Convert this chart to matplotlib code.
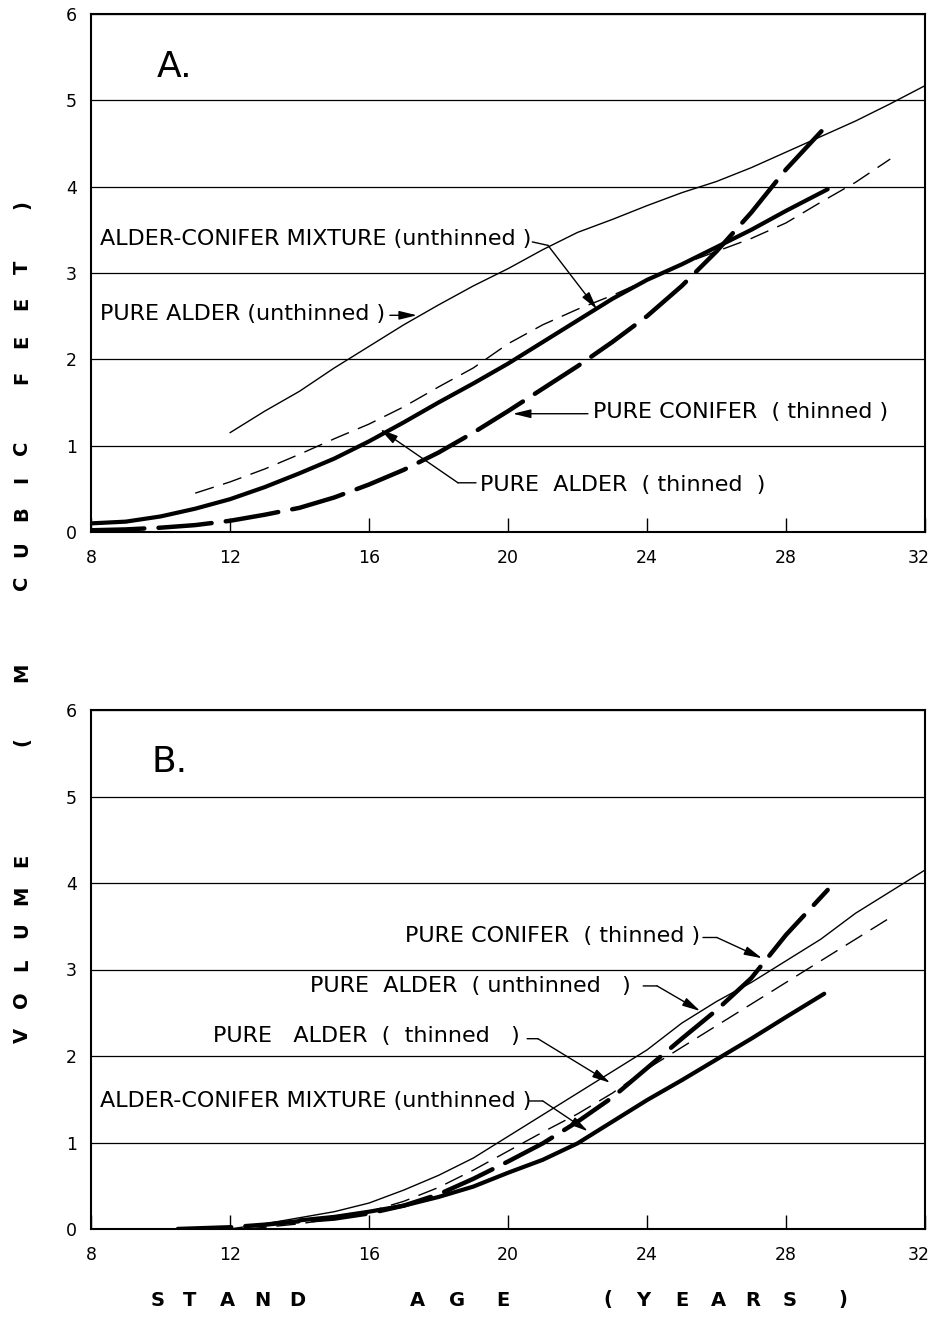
import matplotlib
matplotlib.use("Agg")
import matplotlib.pyplot as plt
from matplotlib.transforms import ScaledTranslation

# ---------------- data ----------------
# Panel A
a_thin_solid_x = [12, 13, 14, 15, 16, 17, 18, 19, 20, 21, 22, 23, 24, 25, 26, 27, 28, 29, 30, 31, 32]
a_thin_solid_y = [1.15, 1.40, 1.63, 1.90, 2.15, 2.40, 2.63, 2.85, 3.05, 3.27, 3.47, 3.62, 3.78, 3.93,
                  4.06, 4.22, 4.40, 4.58, 4.76, 4.96, 5.17]
a_thin_dash_x = [11, 12, 13, 14, 15, 16, 17, 18, 19, 20, 21, 22, 23, 24, 25, 26, 27, 28, 29, 30, 31]
a_thin_dash_y = [0.45, 0.58, 0.73, 0.90, 1.08, 1.25, 1.45, 1.68, 1.90, 2.18, 2.40, 2.58, 2.74, 2.92,
                 3.10, 3.25, 3.40, 3.58, 3.82, 4.05, 4.32]
a_thick_solid_x = [8, 9, 10, 11, 12, 13, 14, 15, 16, 17, 18, 19, 20, 21, 22, 23, 24, 25, 26, 27, 28, 29.2]
a_thick_solid_y = [0.10, 0.12, 0.18, 0.27, 0.38, 0.52, 0.68, 0.85, 1.05, 1.27, 1.50, 1.72, 1.95, 2.20,
                   2.45, 2.70, 2.92, 3.10, 3.30, 3.50, 3.72, 3.97]
a_thick_dash_x = [8, 9, 10, 11, 12, 13, 14, 15, 16, 17, 18, 19, 20, 21, 22, 23, 24, 25, 26, 27, 28, 29.2]
a_thick_dash_y = [0.02, 0.03, 0.05, 0.08, 0.13, 0.20, 0.28, 0.40, 0.55, 0.72, 0.92, 1.15, 1.40, 1.66,
                  1.92, 2.20, 2.50, 2.85, 3.25, 3.70, 4.20, 4.72]

# Panel B
b_thin_solid_x = [12, 13, 14, 15, 16, 17, 18, 19, 20, 21, 22, 23, 24, 25, 26, 27, 28, 29, 30, 31, 32]
b_thin_solid_y = [0.00, 0.06, 0.13, 0.20, 0.30, 0.45, 0.62, 0.82, 1.07, 1.32, 1.57, 1.82, 2.07, 2.38,
                  2.63, 2.85, 3.10, 3.35, 3.65, 3.90, 4.15]
b_thin_dash_x = [12.5, 13, 14, 15, 16, 17, 18, 19, 20, 21, 22, 23, 24, 25, 26, 27, 28, 29, 30, 31]
b_thin_dash_y = [0.00, 0.02, 0.06, 0.12, 0.20, 0.32, 0.48, 0.68, 0.90, 1.12, 1.33, 1.57, 1.85, 2.10,
                 2.35, 2.60, 2.85, 3.10, 3.35, 3.60]
b_thick_solid_x = [14, 15, 16, 17, 18, 19, 20, 21, 22, 23, 24, 25, 26, 27, 28, 29.1]
b_thick_solid_y = [0.10, 0.14, 0.20, 0.27, 0.37, 0.49, 0.65, 0.80, 0.99, 1.24, 1.49, 1.72, 1.96, 2.20,
                   2.45, 2.72]
b_thick_dash_x = [10.5, 12, 13, 14, 15, 16, 17, 18, 19, 20, 21, 22, 23, 24, 25, 26, 27, 28, 29.2]
b_thick_dash_y = [0.00, 0.02, 0.05, 0.09, 0.12, 0.18, 0.27, 0.40, 0.58, 0.78, 0.99, 1.24, 1.52, 1.86,
                  2.20, 2.53, 2.90, 3.40, 3.92]

x_ticks = [8, 12, 16, 20, 24, 28, 32]
x_tick_labels = ["8", "12", "16", "20", "24", "28", "32"]
y_ticks = [0, 1, 2, 3, 4, 5, 6]
y_tick_labels = ["0", "1", "2", "3", "4", "5", "6"]

# ---------------- figure ----------------
W, H = 933, 1325
fig = plt.figure(figsize=(W / 100, H / 100), dpi=100)
fig.patch.set_facecolor("white")

def px_axes(left, top, right, bottom):
    return fig.add_axes([left / W, 1 - bottom / H, (right - left) / W, (bottom - top) / H])

axA = px_axes(91, 14, 925, 532)
axB = px_axes(91, 710, 925, 1229)

for ax in (axA, axB):
    ax.set_xlim(8, 32)
    ax.set_ylim(0, 6)
    ax.set_xticks(x_ticks)
    ax.set_xticklabels(x_tick_labels)
    ax.set_yticks(y_ticks)
    ax.set_yticklabels(y_tick_labels)
    ax.grid(axis="y", color="black", lw=0.9)
    ax.set_axisbelow(True)
    ax.tick_params(axis="x", direction="in", length=10, width=1.0, pad=12, labelsize=12.5)
    ax.tick_params(axis="y", length=0, pad=10, labelsize=12.5)
    for s in ax.spines.values():
        s.set_linewidth(1.5)
    # keep the last x label ("32") inside the picture, as in the reference
    last = ax.get_xticklabels()[-1]
    last.set_transform(last.get_transform() + ScaledTranslation(-6 / 100, 0, fig.dpi_scale_trans))

THIN_DASH = (14, 7)
THICK_DASH = (12, 3.2)

def draw(ax, ts, td, ks, kd):
    ax.plot(ts[0], ts[1], color="black", lw=1.0, solid_capstyle="round")
    ax.plot(td[0], td[1], color="black", lw=1.0, dashes=THIN_DASH)
    ax.plot(ks[0], ks[1], color="black", lw=3.0, solid_capstyle="round")
    ax.plot(kd[0], kd[1], color="black", lw=3.2, dashes=THICK_DASH, dash_capstyle="round")

draw(axA, (a_thin_solid_x, a_thin_solid_y), (a_thin_dash_x, a_thin_dash_y),
     (a_thick_solid_x, a_thick_solid_y), (a_thick_dash_x, a_thick_dash_y))
draw(axB, (b_thin_solid_x, b_thin_solid_y), (b_thin_dash_x, b_thin_dash_y),
     (b_thick_solid_x, b_thick_solid_y), (b_thick_dash_x, b_thick_dash_y))

FS = 16
ARROW = dict(arrowstyle="-|>,head_length=0.9,head_width=0.22", lw=1.0, color="black",
             shrinkA=0, shrinkB=0, mutation_scale=12)
LINE = dict(arrowstyle="-", lw=1.0, color="black", shrinkA=0, shrinkB=0)

def label(ax, text, xy, tip, start=None, elbow=None):
    ax.text(xy[0], xy[1], text, ha="left", va="center", fontsize=FS)
    if elbow is not None:
        ax.annotate("", xy=elbow, xytext=start, arrowprops=LINE)
        ax.annotate("", xy=tip, xytext=elbow, arrowprops=ARROW)
    else:
        ax.annotate("", xy=tip, xytext=start, arrowprops=ARROW)

# Panel A labels
axA.text(9.9, 5.27, "A.", fontsize=26, ha="left", va="baseline")
label(axA, "ALDER-CONIFER MIXTURE (unthinned )", (8.26, 3.39), tip=(22.56, 2.58),
      start=(20.70, 3.36), elbow=(21.15, 3.32))
label(axA, "PURE ALDER (unthinned )", (8.26, 2.53), tip=(17.38, 2.51), start=(16.6, 2.51))
label(axA, "PURE CONIFER  ( thinned )", (22.45, 1.39), tip=(20.14, 1.37), start=(22.3, 1.37))
label(axA, "PURE  ALDER  ( thinned  )", (19.19, 0.55), tip=(16.32, 1.19),
      start=(19.08, 0.57), elbow=(18.56, 0.57))

# Panel B labels
axB.text(9.75, 5.28, "B.", fontsize=26, ha="left", va="baseline")
label(axB, "PURE CONIFER  ( thinned )", (17.04, 3.39), tip=(27.31, 3.13),
      start=(25.61, 3.37), elbow=(26.01, 3.37))
label(axB, "PURE  ALDER  ( unthinned   )", (14.3, 2.81), tip=(25.53, 2.52),
      start=(23.89, 2.81), elbow=(24.29, 2.81))
label(axB, "PURE   ALDER  (  thinned   )", (11.51, 2.23), tip=(22.94, 1.69),
      start=(20.55, 2.20), elbow=(20.86, 2.20))
label(axB, "ALDER-CONIFER MIXTURE (unthinned )", (8.26, 1.48), tip=(22.3, 1.13),
      start=(20.62, 1.48), elbow=(21.0, 1.48))

# Axis titles, letter-spaced as in the reference
xlab = [("S", 158), ("T", 190), ("A", 227), ("N", 262), ("D", 297),
        ("A", 417), ("G", 457), ("E", 503),
        ("(", 608), ("Y", 643), ("E", 682), ("A", 718), ("R", 753), ("S", 790), (")", 843)]
for ch, px in xlab:
    fig.text(px / W, 1 - 1300 / H, ch, ha="center", va="center", fontsize=14, fontweight="bold")

ylab = [("V", 1035), ("O", 1000), ("L", 965), ("U", 930), ("M", 895), ("E", 860),
        ("(", 742), ("M", 672),
        ("C", 583), ("U", 549), ("B", 514), ("I", 479), ("C", 448),
        ("F", 377), ("E", 341), ("E", 303), ("T", 267), (")", 205)]
for ch, py in ylab:
    fig.text(22 / W, 1 - py / H, ch, ha="center", va="center", rotation=90,
             fontsize=14, fontweight="bold")

fig.savefig("out.png", dpi=100, facecolor="white")
